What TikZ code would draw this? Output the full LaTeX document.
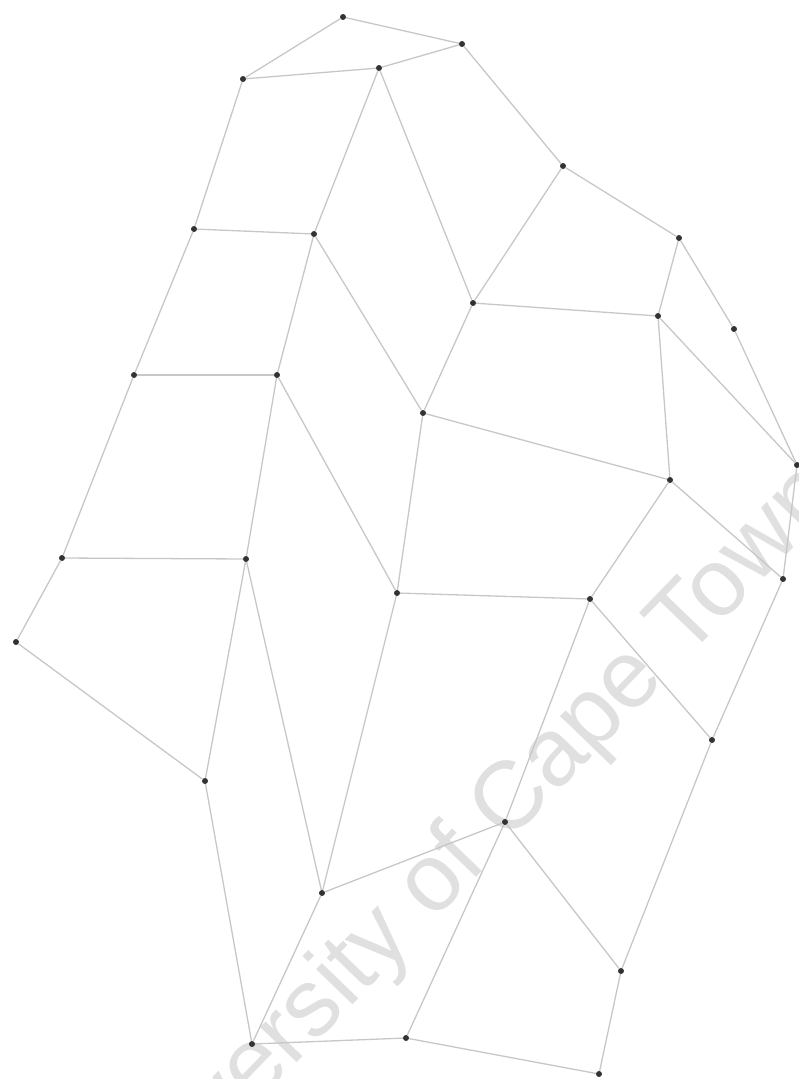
\documentclass[tikz,border=0pt]{standalone}
\usepackage{fontspec}
\newfontfamily\wmfont{Liberation Sans}
\begin{document}
\begin{tikzpicture}[x=1pt,y=-1pt,
  pt/.style={circle,fill=black!80,inner sep=0pt,minimum size=6pt},
  edge/.style={draw=black!22,line width=1.3pt},
  wm/.style={text=black!12,anchor=base west,rotate=46,inner sep=0pt,font=\wmfont\fontsize{96}{96}\selectfont}]
\useasboundingbox (0,0) rectangle (799,1079);
\begin{scope}
\clip (0,0) rectangle (799,1079);
\node[wm] (wmark) at (122,1244) {University of Cape Town};
\end{scope}
\node[pt] (n1) at (343,17) {};
\node[pt] (n2) at (462,44) {};
\node[pt] (n3) at (243,79) {};
\node[pt] (n4) at (379,68) {};
\node[pt] (n5) at (563,166) {};
\node[pt] (n6) at (194,229) {};
\node[pt] (n7) at (314,234) {};
\node[pt] (n8) at (679,238) {};
\node[pt] (n9) at (473,303) {};
\node[pt] (n10) at (658,316) {};
\node[pt] (n11) at (734,329) {};
\node[pt] (n12) at (134,375) {};
\node[pt] (n13) at (277,375) {};
\node[pt] (n14) at (423,413) {};
\node[pt] (n15) at (797,465) {};
\node[pt] (n16) at (670,480) {};
\node[pt] (n17) at (62,558) {};
\node[pt] (n18) at (246,559) {};
\node[pt] (n19) at (397,593) {};
\node[pt] (n20) at (590,599) {};
\node[pt] (n21) at (783,579) {};
\node[pt] (n22) at (16,642) {};
\node[pt] (n23) at (712,740) {};
\node[pt] (n24) at (205,781) {};
\node[pt] (n25) at (505,822) {};
\node[pt] (n26) at (322,893) {};
\node[pt] (n27) at (621,971) {};
\node[pt] (n28) at (252,1044) {};
\node[pt] (n29) at (406,1038) {};
\node[pt] (n30) at (599,1074) {};
\foreach \a/\b in {n1/n2,n1/n3,n3/n4,n4/n2,n2/n5,n5/n8,n8/n11,n11/n15,n8/n10,n10/n15,n10/n16,n9/n10,n5/n9,n4/n9,n4/n7,n3/n6,n6/n7,n6/n12,n7/n13,n7/n14,n9/n14,n12/n13,n12/n17,n13/n18,n13/n19,n14/n19,n14/n16,n16/n20,n16/n21,n15/n21,n19/n20,n17/n18,n17/n22,n22/n24,n18/n24,n18/n26,n19/n26,n20/n23,n20/n25,n21/n23,n23/n27,n26/n25,n25/n27,n25/n29,n24/n28,n26/n28,n28/n29,n29/n30,n27/n30}
  \draw[edge] (\a) -- (\b);
\end{tikzpicture}
\end{document}
